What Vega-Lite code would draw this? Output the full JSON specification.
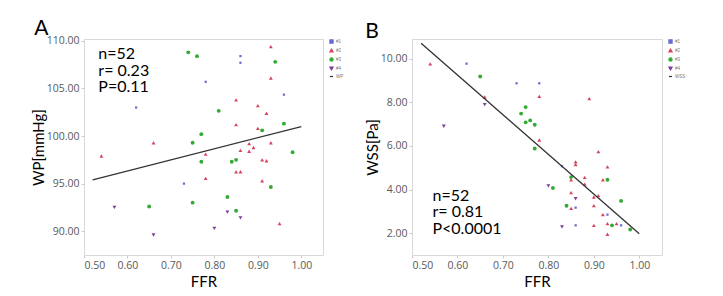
{
  "$schema": "https://vega.github.io/schema/vega-lite/v6.json",
  "padding": {"left": 30, "top": 17, "right": 0, "bottom": 0},
  "background": "white",
  "spacing": 19,
  "datasets": {
    "wp": [
      {"FFR":0.86,"WP":108.4,"group":"#1"},{"FFR":0.86,"WP":107.7,"group":"#1"},{"FFR":0.78,"WP":105.7,"group":"#1"},{"FFR":0.96,"WP":104.35,"group":"#1"},{"FFR":0.62,"WP":103.0,"group":"#1"},{"FFR":0.73,"WP":95.0,"group":"#1"},
      {"FFR":0.93,"WP":109.4,"group":"#2"},{"FFR":0.93,"WP":106.1,"group":"#2"},{"FFR":0.85,"WP":103.8,"group":"#2"},{"FFR":0.90,"WP":103.2,"group":"#2"},{"FFR":0.92,"WP":102.4,"group":"#2"},{"FFR":0.85,"WP":101.2,"group":"#2"},{"FFR":0.90,"WP":100.8,"group":"#2"},{"FFR":0.66,"WP":99.3,"group":"#2"},{"FFR":0.88,"WP":99.2,"group":"#2"},{"FFR":0.89,"WP":98.8,"group":"#2"},{"FFR":0.93,"WP":99.3,"group":"#2"},{"FFR":0.54,"WP":97.9,"group":"#2"},{"FFR":0.78,"WP":98.1,"group":"#2"},{"FFR":0.86,"WP":98.5,"group":"#2"},{"FFR":0.88,"WP":98.4,"group":"#2"},{"FFR":0.91,"WP":97.5,"group":"#2"},{"FFR":0.92,"WP":97.4,"group":"#2"},{"FFR":0.85,"WP":96.25,"group":"#2"},{"FFR":0.86,"WP":96.25,"group":"#2"},{"FFR":0.78,"WP":95.55,"group":"#2"},{"FFR":0.91,"WP":95.3,"group":"#2"},{"FFR":0.95,"WP":90.8,"group":"#2"},
      {"FFR":0.74,"WP":108.8,"group":"#3"},{"FFR":0.76,"WP":108.4,"group":"#3"},{"FFR":0.94,"WP":107.8,"group":"#3"},{"FFR":0.81,"WP":102.65,"group":"#3"},{"FFR":0.96,"WP":101.3,"group":"#3"},{"FFR":0.91,"WP":100.6,"group":"#3"},{"FFR":0.77,"WP":100.2,"group":"#3"},{"FFR":0.75,"WP":99.3,"group":"#3"},{"FFR":0.77,"WP":97.3,"group":"#3"},{"FFR":0.84,"WP":97.3,"group":"#3"},{"FFR":0.85,"WP":97.5,"group":"#3"},{"FFR":0.98,"WP":98.3,"group":"#3"},{"FFR":0.93,"WP":94.65,"group":"#3"},{"FFR":0.75,"WP":93.0,"group":"#3"},{"FFR":0.83,"WP":93.6,"group":"#3"},{"FFR":0.65,"WP":92.6,"group":"#3"},{"FFR":0.85,"WP":92.15,"group":"#3"},
      {"FFR":0.57,"WP":92.5,"group":"#4"},{"FFR":0.83,"WP":92.0,"group":"#4"},{"FFR":0.86,"WP":91.4,"group":"#4"},{"FFR":0.80,"WP":90.3,"group":"#4"},{"FFR":0.66,"WP":89.6,"group":"#4"}
    ],
    "wpline": [{"FFR":0.52,"WP":95.4,"group":"WP"},{"FFR":1.0,"WP":101.0,"group":"WP"}],
    "wss": [
      {"FFR":0.62,"WSS":9.77,"group":"#1"},{"FFR":0.73,"WSS":8.87,"group":"#1"},{"FFR":0.78,"WSS":8.87,"group":"#1"},{"FFR":0.83,"WSS":5.07,"group":"#1"},{"FFR":0.86,"WSS":3.17,"group":"#1"},{"FFR":0.93,"WSS":2.85,"group":"#1"},{"FFR":0.96,"WSS":2.36,"group":"#1"},{"FFR":0.86,"WSS":2.36,"group":"#1"},
      {"FFR":0.54,"WSS":9.76,"group":"#2"},{"FFR":0.66,"WSS":8.24,"group":"#2"},{"FFR":0.78,"WSS":8.27,"group":"#2"},{"FFR":0.89,"WSS":8.17,"group":"#2"},{"FFR":0.78,"WSS":6.27,"group":"#2"},{"FFR":0.91,"WSS":5.74,"group":"#2"},{"FFR":0.86,"WSS":5.27,"group":"#2"},{"FFR":0.86,"WSS":5.15,"group":"#2"},{"FFR":0.93,"WSS":5.04,"group":"#2"},{"FFR":0.88,"WSS":4.56,"group":"#2"},{"FFR":0.85,"WSS":4.45,"group":"#2"},{"FFR":0.92,"WSS":4.45,"group":"#2"},{"FFR":0.88,"WSS":4.25,"group":"#2"},{"FFR":0.85,"WSS":3.86,"group":"#2"},{"FFR":0.90,"WSS":3.66,"group":"#2"},{"FFR":0.91,"WSS":3.72,"group":"#2"},{"FFR":0.90,"WSS":3.26,"group":"#2"},{"FFR":0.85,"WSS":3.14,"group":"#2"},{"FFR":0.92,"WSS":2.85,"group":"#2"},{"FFR":0.93,"WSS":2.44,"group":"#2"},{"FFR":0.95,"WSS":2.44,"group":"#2"},{"FFR":0.90,"WSS":2.36,"group":"#2"},{"FFR":0.93,"WSS":1.95,"group":"#2"},
      {"FFR":0.65,"WSS":9.18,"group":"#3"},{"FFR":0.75,"WSS":7.78,"group":"#3"},{"FFR":0.74,"WSS":7.48,"group":"#3"},{"FFR":0.75,"WSS":7.08,"group":"#3"},{"FFR":0.76,"WSS":7.17,"group":"#3"},{"FFR":0.77,"WSS":6.97,"group":"#3"},{"FFR":0.77,"WSS":5.88,"group":"#3"},{"FFR":0.85,"WSS":4.57,"group":"#3"},{"FFR":0.93,"WSS":4.45,"group":"#3"},{"FFR":0.81,"WSS":4.07,"group":"#3"},{"FFR":0.96,"WSS":3.48,"group":"#3"},{"FFR":0.84,"WSS":3.26,"group":"#3"},{"FFR":0.94,"WSS":2.36,"group":"#3"},{"FFR":0.98,"WSS":2.17,"group":"#3"},
      {"FFR":0.66,"WSS":7.89,"group":"#4"},{"FFR":0.57,"WSS":6.9,"group":"#4"},{"FFR":0.80,"WSS":4.17,"group":"#4"},{"FFR":0.86,"WSS":3.58,"group":"#4"},{"FFR":0.83,"WSS":2.29,"group":"#4"}
    ],
    "wssline": [{"FFR":0.52,"WSS":10.71,"group":"WSS"},{"FFR":1.0,"WSS":1.97,"group":"WSS"}]
  },
  "hconcat": [
    {
      "width": 239,
      "height": 216,
      "title": {"text": "A", "anchor": "start", "frame": "bounds", "fontSize": 21, "font": "Lato", "fontWeight": "normal", "offset": -3, "dx": 3},
      "layer": [
        {
          "data": {"name": "wp"},
          "transform": [{"filter": "datum.group === '#1'"}],
          "mark": {"type": "point", "filled": true, "opacity": 1, "size": 5},
          "encoding": {
            "x": {"field": "FFR", "type": "quantitative", "scale": {"domain": [0.5, 1.05], "nice": false, "zero": false}, "axis": {"values": [0.5,0.6,0.7,0.8,0.9,1.0], "format": ".2f", "title": "FFR"}},
            "y": {"field": "WP", "type": "quantitative", "scale": {"domain": [87.5, 110.2], "nice": false, "zero": false}, "axis": {"values": [90,95,100,105,110], "format": ".2f", "title": "WP[mmHg]"}},
            "color": {"field": "group", "type": "nominal", "scale": {"domain": ["#1","#2","#3","#4","WP"], "range": ["#6a6ad2","#d6445e","#33aa33","#7d3c98","#333333"]}, "legend": {"title": null}},
            "shape": {"field": "group", "type": "nominal", "scale": {"domain": ["#1","#2","#3","#4","WP"], "range": ["square","triangle-up","circle","triangle-down","stroke"]}, "legend": {"title": null}}
          }
        },
        {
          "data": {"name": "wp"},
          "transform": [{"filter": "datum.group !== '#1'"}],
          "mark": {"type": "point", "filled": true, "opacity": 1, "size": 15},
          "encoding": {
            "x": {"field": "FFR", "type": "quantitative"},
            "y": {"field": "WP", "type": "quantitative"},
            "color": {"field": "group", "type": "nominal"},
            "shape": {"field": "group", "type": "nominal"}
          }
        },
        {
          "data": {"name": "wpline"},
          "mark": {"type": "line", "strokeWidth": 1.3},
          "encoding": {
            "x": {"field": "FFR", "type": "quantitative"},
            "y": {"field": "WP", "type": "quantitative"},
            "color": {"field": "group", "type": "nominal"}
          }
        },
        {
          "data": {"values": [{}]},
          "mark": {"type": "text", "align": "left", "baseline": "middle", "font": "Lato", "fontSize": 16, "lineHeight": 16.5, "color": "black", "text": ["n=52", " r= 0.23", "P=0.11"]},
          "encoding": {
            "x": {"datum": 0.533, "type": "quantitative"},
            "y": {"datum": 108.6, "type": "quantitative"}
          }
        }
      ]
    },
    {
      "width": 250,
      "height": 216,
      "title": {"text": "B", "anchor": "start", "frame": "bounds", "fontSize": 21, "font": "Lato", "fontWeight": "normal", "offset": -3, "dx": 0},
      "layer": [
        {
          "data": {"name": "wss"},
          "transform": [{"filter": "datum.group === '#1'"}],
          "mark": {"type": "point", "filled": true, "opacity": 1, "size": 5},
          "encoding": {
            "x": {"field": "FFR", "type": "quantitative", "scale": {"domain": [0.5, 1.05], "nice": false, "zero": false}, "axis": {"values": [0.5,0.6,0.7,0.8,0.9,1.0], "format": ".2f", "title": "FFR"}},
            "y": {"field": "WSS", "type": "quantitative", "scale": {"domain": [1, 10.9], "nice": false, "zero": false}, "axis": {"values": [2,4,6,8,10], "format": ".2f", "title": "WSS[Pa]"}},
            "color": {"field": "group", "type": "nominal", "scale": {"domain": ["#1","#2","#3","#4","WSS"], "range": ["#6a6ad2","#d6445e","#33aa33","#7d3c98","#333333"]}, "legend": {"title": null}},
            "shape": {"field": "group", "type": "nominal", "scale": {"domain": ["#1","#2","#3","#4","WSS"], "range": ["square","triangle-up","circle","triangle-down","stroke"]}, "legend": {"title": null}}
          }
        },
        {
          "data": {"name": "wss"},
          "transform": [{"filter": "datum.group !== '#1'"}],
          "mark": {"type": "point", "filled": true, "opacity": 1, "size": 15},
          "encoding": {
            "x": {"field": "FFR", "type": "quantitative"},
            "y": {"field": "WSS", "type": "quantitative"},
            "color": {"field": "group", "type": "nominal"},
            "shape": {"field": "group", "type": "nominal"}
          }
        },
        {
          "data": {"name": "wssline"},
          "mark": {"type": "line", "strokeWidth": 1.3},
          "encoding": {
            "x": {"field": "FFR", "type": "quantitative"},
            "y": {"field": "WSS", "type": "quantitative"},
            "color": {"field": "group", "type": "nominal"}
          }
        },
        {
          "data": {"values": [{}]},
          "mark": {"type": "text", "align": "left", "baseline": "middle", "font": "Lato", "fontSize": 16, "lineHeight": 16.5, "color": "black", "text": ["n=52", " r= 0.81", "P<0.0001"]},
          "encoding": {
            "x": {"datum": 0.545, "type": "quantitative"},
            "y": {"datum": 3.72, "type": "quantitative"}
          }
        }
      ]
    }
  ],
  "resolve": {"scale": {"color": "independent", "shape": "independent"}, "legend": {"color": "independent", "shape": "independent"}},
  "config": {
    "view": {"stroke": "#d9d9d9"},
    "axis": {
      "grid": false,
      "domain": false,
      "ticks": true,
      "tickSize": 3,
      "tickColor": "#cccccc",
      "labelFont": "Open Sans",
      "labelFontSize": 10.5,
      "labelColor": "#595959",
      "labelPadding": 2,
      "titleFont": "Lato",
      "titleFontSize": 15,
      "titleFontWeight": "normal",
      "titleColor": "black"
    },
    "axisX": {"titlePadding": 4},
    "axisY": {"titlePadding": 0},
    "legend": {
      "orient": "right",
      "offset": 6,
      "padding": 0,
      "labelFontSize": 4.5,
      "labelColor": "#777777",
      "labelOffset": 2,
      "symbolSize": 10,
      "symbolStrokeWidth": 1.2,
      "rowPadding": 0
    }
  }
}
